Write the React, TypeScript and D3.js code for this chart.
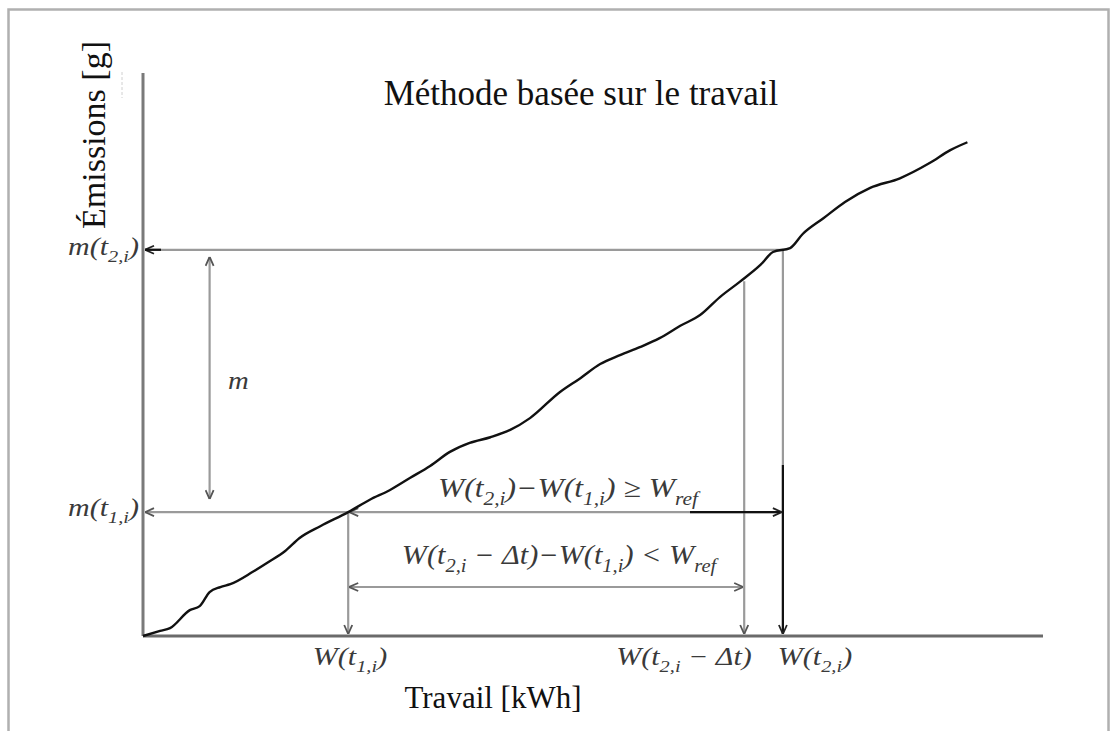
import React from "react";
import * as d3 from "d3";

// ---- Data (work in arbitrary units, emissions in arbitrary units) ----
const workValues = [0, 1.9, 3.0, 5.2, 6.3, 7.4, 8.6, 9.7, 12.2, 13.9, 15.8, 17.4, 19.7, 22.8, 25.2, 27.4, 29.7, 31.9, 34.1, 36.3, 38.6, 40.8, 43.0, 46.3, 48.6, 50.8, 53.0, 55.2, 57.4, 59.7, 61.9, 64.1, 66.3, 68.6, 70.0, 71.9, 73.3, 75.6, 78.0, 80.8, 84.1, 87.4, 89.7, 91.6];
const emissionValues = [0, 0.9, 1.4, 4.6, 5.3, 7.8, 8.7, 9.2, 11.4, 13.1, 15.1, 17.4, 19.5, 22.0, 24.2, 25.9, 28.1, 30.2, 32.7, 34.3, 35.3, 36.6, 38.7, 43.3, 45.8, 48.3, 49.9, 51.3, 52.9, 55.1, 57.0, 60.2, 62.9, 65.9, 68.2, 68.9, 71.4, 74.2, 77.1, 79.6, 81.3, 84.0, 86.3, 87.7];

const axisMax = [100, 100];
const W1 = 22.8; // W(t1,i)
const W2dt = 66.8; // W(t2,i - Δt)
const W2 = 71.1; // W(t2,i)
const m1 = 22.0; // m(t1,i)
const m2 = 68.6; // m(t2,i)
const mAtW2dt = 63.0;
const mArrowWork = 7.4;
const lowerArrowEmission = 8.7;

const title = "Méthode basée sur le travail";
const xTitle = "Travail [kWh]";
const yTitle = "Émissions [g]";

type Part = { t: string; sub?: boolean };
const labelM2: Part[] = [{ t: "m(t" }, { t: "2,i", sub: true }, { t: ")" }];
const labelM1: Part[] = [{ t: "m(t" }, { t: "1,i", sub: true }, { t: ")" }];
const labelW1: Part[] = [{ t: "W(t" }, { t: "1,i", sub: true }, { t: ")" }];
const labelW2dt: Part[] = [{ t: "W(t" }, { t: "2,i", sub: true }, { t: " − Δt)" }];
const labelW2: Part[] = [{ t: "W(t" }, { t: "2,i", sub: true }, { t: ")" }];
const labelUpper: Part[] = [
  { t: "W(t" }, { t: "2,i", sub: true }, { t: ")−W(t" }, { t: "1,i", sub: true }, { t: ") ≥ W" }, { t: "ref", sub: true },
];
const labelLower: Part[] = [
  { t: "W(t" }, { t: "2,i", sub: true }, { t: " − Δt)−W(t" }, { t: "1,i", sub: true }, { t: ") < W" }, { t: "ref", sub: true },
];

const W = 1112;
const H = 731;
const plot = { left: 143, right: 1043, top: 73, bottom: 636 };

const MathText = ({ parts, x, y, anchor = "middle", size = 26, sx = 1.2 }: { parts: Part[]; x: number; y: number; anchor?: string; size?: number; sx?: number }) => {
  const els: React.ReactNode[] = [];
  let shifted = false;
  parts.forEach((p, i) => {
    let dy = 0;
    if (p.sub && !shifted) { dy = size * 0.28; shifted = true; }
    else if (!p.sub && shifted) { dy = -size * 0.28; shifted = false; }
    els.push(
      <tspan key={i} dy={dy} fontSize={p.sub ? size * 0.68 : size}>{p.t}</tspan>
    );
  });
  return (
    <g transform={`translate(${x},${y}) scale(${sx},1)`}>
      <text textAnchor={anchor as any} fontFamily="'Liberation Serif', 'DejaVu Serif', serif" fontStyle="italic" fill="#3a3a3a" fontSize={size}>
        {els}
      </text>
    </g>
  );
};

export default function App() {
  const x = d3.scaleLinear().domain([0, axisMax[0]]).range([plot.left, plot.right]);
  const y = d3.scaleLinear().domain([0, axisMax[1]]).range([plot.bottom, plot.top]);
  const pts: [number, number][] = workValues.map((w, i) => [w, emissionValues[i]]);
  const line = d3.line<[number, number]>().x((d) => x(d[0])).y((d) => y(d[1])).curve(d3.curveMonotoneX);

  const gray = "#9a9a9a";
  const dark = "#111";
  const sw = 2.2;

  return (
    <svg width={W} height={H} style={{ position: "absolute", left: 0, top: 0, background: "#fff" }}>
      <defs>
        <marker id="ah" viewBox="0 0 10 10" refX="10" refY="5" markerWidth="10" markerHeight="10" markerUnits="userSpaceOnUse" orient="auto-start-reverse">
          <path d="M1,1 L10,5 L1,9" fill="none" stroke="#222" strokeWidth="1.8" />
        </marker>
        <marker id="ahg" viewBox="0 0 10 10" refX="10" refY="5" markerWidth="10" markerHeight="10" markerUnits="userSpaceOnUse" orient="auto-start-reverse">
          <path d="M1,1 L10,5 L1,9" fill="none" stroke="#555" strokeWidth="1.8" />
        </marker>
      </defs>
      {/* frame */}
      <rect x={8.5} y={9.5} width={1100} height={800} fill="none" stroke="#b0b0b0" strokeWidth={2.5} />

      {/* title */}
      <text x={581} y={105} textAnchor="middle" fontFamily="'Liberation Serif', serif" fontSize={35} fill="#111">{title}</text>

      {/* y title */}
      <text transform={`translate(105,135) rotate(-90)`} textAnchor="middle" fontFamily="'Liberation Serif', serif" fontSize={34} fill="#111">{yTitle}</text>
      <line x1={122} x2={122} y1={72} y2={98} stroke="#d0d0d0" strokeWidth={1} strokeDasharray="3,2" />

      {/* x title */}
      <text x={493} y={708} textAnchor="middle" fontFamily="'Liberation Serif', serif" fontSize={31} fill="#111">{xTitle}</text>

      {/* axes */}
      <line x1={x(0)} x2={x(0)} y1={y(axisMax[1])} y2={y(0)} stroke="#7a7a7a" strokeWidth={3} />
      <line x1={x(0)} x2={x(axisMax[0])} y1={y(0)} y2={y(0)} stroke="#6a6a6a" strokeWidth={3} />

      {/* m(t2,i) horizontal */}
      <line x1={x(W2)} x2={x(0) + 2} y1={y(m2)} y2={y(m2)} stroke={gray} strokeWidth={sw} markerEnd="url(#ah)" />
      <line x1={x(0) + 18} x2={x(0) + 2} y1={y(m2)} y2={y(m2)} stroke={dark} strokeWidth={sw} />
      {/* m(t1,i) horizontal */}
      <line x1={x(W1)} x2={x(0) + 2} y1={y(m1)} y2={y(m1)} stroke={gray} strokeWidth={sw} markerEnd="url(#ahg)" />

      {/* m double arrow */}
      <line x1={x(mArrowWork)} x2={x(mArrowWork)} y1={y(m2) + 7} y2={y(m1) - 13} stroke={gray} strokeWidth={sw} markerStart="url(#ahg)" markerEnd="url(#ahg)" />

      {/* verticals */}
      <line x1={x(W1)} x2={x(W1)} y1={y(m1)} y2={y(0) - 2} stroke={gray} strokeWidth={sw} markerEnd="url(#ahg)" />
      <line x1={x(W2dt)} x2={x(W2dt)} y1={y(mAtW2dt)} y2={y(0) - 2} stroke={gray} strokeWidth={sw} markerEnd="url(#ahg)" />
      <line x1={x(W2)} x2={x(W2)} y1={y(m2)} y2={y(0) - 2} stroke={gray} strokeWidth={sw} />
      <line x1={x(W2)} x2={x(W2)} y1={465} y2={y(0) - 2} stroke={dark} strokeWidth={sw} markerEnd="url(#ah)" />

      {/* horizontal double arrows */}
      <line x1={x(W1) + 1} x2={x(W2) - 1} y1={y(m1)} y2={y(m1)} stroke={gray} strokeWidth={sw} markerStart="url(#ahg)" markerEnd="url(#ah)" />
      <line x1={690} x2={x(W2) - 3} y1={y(m1)} y2={y(m1)} stroke={dark} strokeWidth={sw} />
      <line x1={x(W1) + 1} x2={x(W2dt) - 1} y1={y(lowerArrowEmission)} y2={y(lowerArrowEmission)} stroke={gray} strokeWidth={sw} markerStart="url(#ahg)" markerEnd="url(#ahg)" />

      {/* curve */}
      <path d={line(pts) || ""} fill="none" stroke="#111" strokeWidth={2.4} />

      {/* labels */}
      <MathText parts={labelM2} x={139} y={255} anchor="end" size={25} />
      <MathText parts={labelM1} x={139} y={516} anchor="end" size={25} />
      <text x={228} y={389} fontFamily="'Liberation Serif', serif" fontStyle="italic" fontSize={25} fill="#3a3a3a" transform="translate(228,0) scale(1.15,1) translate(-228,0)">m</text>
      <MathText parts={labelUpper} x={568} y={497} size={27} sx={1.17} />
      <MathText parts={labelLower} x={559} y={564} size={27} sx={1.12} />
      <MathText parts={labelW1} x={350} y={665} size={25} />
      <MathText parts={labelW2dt} x={684} y={665} size={25} />
      <MathText parts={labelW2} x={815} y={665} size={25} />
    </svg>
  );
}
